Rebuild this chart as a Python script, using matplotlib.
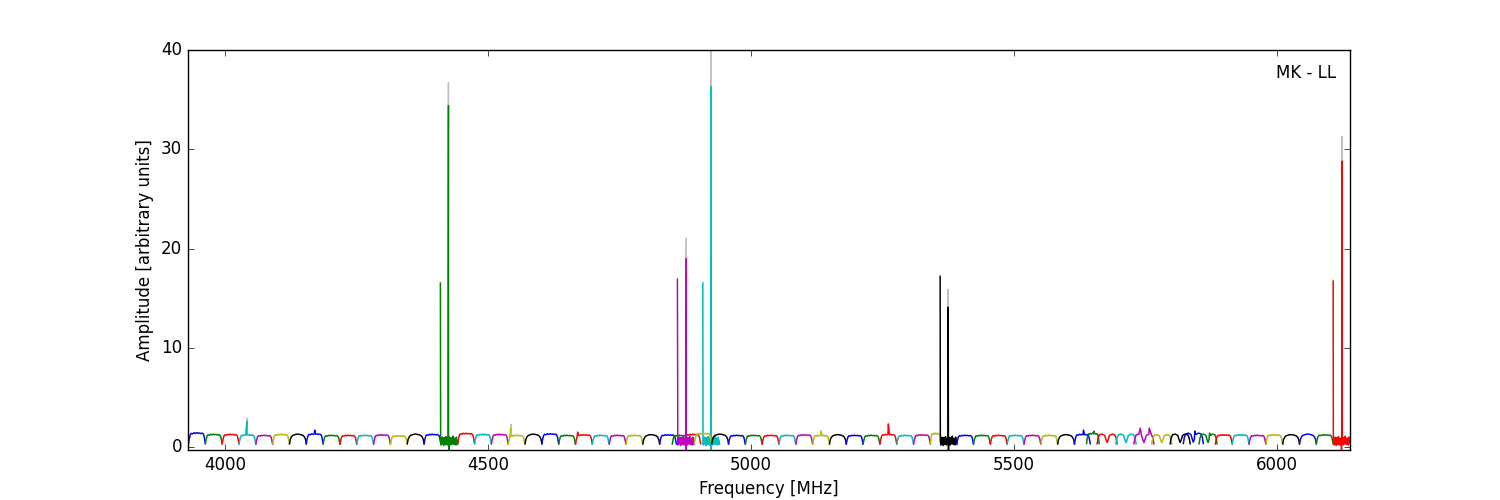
import numpy as np
import matplotlib
matplotlib.use("Agg")
import matplotlib.pyplot as plt

plt.style.use("classic")
plt.rcParams["figure.facecolor"] = "white"
plt.rcParams["savefig.facecolor"] = "white"
plt.rcParams["font.family"] = ["DejaVu Sans"]

# ---------------- data ----------------
colors = ["b", "g", "r", "c", "m", "y", "k"]

# start frequency [MHz] of each sub-band, in plotting order
sub_start = [3930, 3962, 3994, 4026, 4058, 4090, 4122, 4154, 4186, 4218,
             4250, 4282, 4314, 4346, 4378, 4409, 4442, 4474, 4506, 4538,
             4570, 4602, 4634, 4666, 4698, 4730, 4762, 4794, 4826, 4850,
             4874, 4908, 4860, 4892, 4925, 4957, 4989, 5021, 5053, 5085,
             5117, 5149, 5181, 5213, 5245, 5277, 5309, 5341, 5359.5, 5391,
             5423, 5455, 5487, 5519, 5551, 5583, 5615, 5638, 5658, 5694,
             5728, 5762, 5797, 5822, 5852, 5883, 5915, 5947, 5979, 6011,
             6043, 6075, 6107]
# width [MHz] of each sub-band
sub_width = [32, 32, 32, 32, 32, 32, 32, 32, 32, 32,
             32, 32, 32, 32, 32, 33, 32, 32, 32, 32,
             32, 32, 32, 32, 32, 32, 32, 32, 32, 28,
             30, 32, 32, 33, 32, 32, 32, 32, 32, 32,
             32, 32, 32, 32, 32, 32, 32, 20, 32, 32,
             32, 32, 32, 32, 32, 32, 30, 24, 38, 38,
             38, 38, 38, 38, 34, 32, 32, 32, 32, 32,
             32, 32, 32]
# top level of each sub-band
sub_level = [1.45, 1.3, 1.3, 1.25, 1.2, 1.3, 1.3, 1.35, 1.2, 1.2,
             1.2, 1.25, 1.15, 1.3, 1.3, 0.0, 1.4, 1.3, 1.3, 1.2,
             1.3, 1.35, 1.2, 1.25, 1.2, 1.2, 1.2, 1.25, 1.25, 1.2,
             1.3, 0.0, 0.0, 1.4, 1.3, 1.2, 1.2, 1.2, 1.2, 1.25,
             1.2, 1.25, 1.2, 1.2, 1.3, 1.2, 1.25, 1.4, 0.0, 1.2,
             1.2, 1.2, 1.2, 1.2, 1.2, 1.25, 1.3, 1.4, 1.3, 1.3,
             1.3, 1.25, 1.3, 1.4, 1.3, 1.25, 1.25, 1.2, 1.25, 1.25,
             1.3, 1.25, 0.0]
# shape of each sub-band: f = flat top, a = arched, d = two humps, t = RFI-hit (noisy)
sub_shape = ["f", "f", "f", "f", "f", "f", "a", "f", "f", "f",
             "f", "f", "f", "a", "f", "t", "f", "f", "f", "f",
             "a", "f", "f", "f", "f", "f", "f", "a", "f", "f",
             "f", "t", "t", "f", "a", "f", "f", "f", "f", "f",
             "f", "a", "f", "f", "f", "f", "f", "f", "t", "f",
             "f", "f", "f", "f", "f", "a", "f", "f", "d", "d",
             "d", "d", "d", "d", "d", "f", "f", "f", "f", "a",
             "a", "f", "t"]

# bandpass profiles (fraction of band, fraction of top level)
flat_pos = [0.0, 0.04, 0.10, 0.16, 0.24, 0.32, 0.40, 0.48, 0.56, 0.64, 0.72, 0.80, 0.88, 0.93, 0.97, 1.0]
flat_val = [0.25, 0.55, 0.85, 0.95, 0.91, 0.99, 0.94, 1.0, 0.95, 0.98, 0.93, 0.97, 0.9, 0.72, 0.42, 0.25]
arch_pos = [0.0, 0.05, 0.12, 0.20, 0.30, 0.40, 0.50, 0.60, 0.70, 0.80, 0.88, 0.95, 1.0]
arch_val = [0.25, 0.6, 0.8, 0.9, 0.95, 0.99, 1.0, 0.98, 0.95, 0.9, 0.8, 0.6, 0.25]
double_pos = [0.0, 0.05, 0.12, 0.25, 0.38, 0.45, 0.50, 0.55, 0.62, 0.75, 0.88, 0.95, 1.0]
double_val = [0.25, 0.7, 0.95, 1.0, 0.9, 0.55, 0.35, 0.55, 0.9, 1.0, 0.95, 0.7, 0.25]
# jagged profile of the RFI-hit sub-bands
thick_noise = [0.6, 0.2, 0.9, 0.4, 1.0, 0.3, 0.8, 0.15, 0.95, 0.5,
               0.7, 0.25, 1.05, 0.35, 0.85, 0.2, 0.9, 0.45, 0.75, -0.3,
               1.0, 0.4, 0.65, 0.2, 0.95, 0.5, 0.8, 0.3, 1.1, 0.35,
               0.7, 0.25, 0.9, 0.45, 0.85, 0.2, 1.0, 0.5, 0.6, 0.3]

# spikes: sub-band index, frequency [MHz], amplitude (coloured), amplitude (grey)
spike_sub  = [15, 15, 32, 32, 31, 31, 48, 48, 72, 72,
              3, 7, 19, 23, 40, 44, 56, 57, 60, 60, 63, 64]
spike_freq = [4409.0, 4424.3, 4859.8, 4876.6, 4908.0, 4923.2, 5359.5, 5374.8, 6107.0, 6123.7,
              4041, 4170, 4543, 4670, 5133, 5261, 5632, 5652, 5740, 5757, 5844, 5872]
spike_amp  = [16.5, 34.4, 16.9, 19.0, 16.5, 36.3, 17.2, 14.1, 16.7, 28.8,
              2.6, 1.7, 1.9, 1.5, 1.6, 2.3, 1.7, 1.6, 1.9, 1.9, 1.6, 1.4]
spike_gray = [16.6, 36.7, 17.0, 21.0, 16.6, 42.0, 17.2, 15.9, 16.8, 31.3,
              2.9, 1.7, 2.3, 1.5, 1.6, 2.4, 1.7, 1.6, 1.9, 1.9, 1.6, 1.4]

# ---------------- figure ----------------
fig = plt.figure(figsize=(15, 5), dpi=100)
ax = fig.add_subplot(111)

profiles = {"f": (flat_pos, flat_val), "a": (arch_pos, arch_val), "d": (double_pos, double_val)}


def band_curve(i, amps):
    s, w, shp = sub_start[i], sub_width[i], sub_shape[i]
    if shp == "t":
        x = s + 0.4 + (w - 0.4) * np.arange(len(thick_noise)) / (len(thick_noise) - 1)
        y = np.array(thick_noise, dtype=float)
    else:
        p, v = profiles[shp]
        x = s + w * np.array(p)
        y = sub_level[i] * np.array(v)
    for k, sb in enumerate(spike_sub):
        if sb == i:
            x = np.append(x, spike_freq[k])
            y = np.append(y, amps[k])
    order = np.argsort(x, kind="stable")
    return x[order], y[order]


for i in range(len(sub_start)):
    xg, yg = band_curve(i, spike_gray)
    ax.plot(xg, yg, color="0.75", lw=1.0, zorder=1)
for i in range(len(sub_start)):
    xc, yc = band_curve(i, spike_amp)
    ax.plot(xc, yc, color=colors[i % len(colors)], lw=1.0, zorder=2)

ax.set_xlim(min(sub_start) - 2, max(s + w for s, w in zip(sub_start, sub_width)))
ax.set_ylim(-0.3, 40)
ax.set_xticks([4000, 4500, 5000, 5500, 6000])
ax.set_yticks([0, 10, 20, 30, 40])
ax.set_xlabel("Frequency [MHz]")
ax.set_ylabel("Amplitude [arbitrary units]")
ax.text(0.988, 0.965, "MK - LL", transform=ax.transAxes, ha="right", va="top", fontsize=12)

fig.savefig("out.png", dpi=100)
